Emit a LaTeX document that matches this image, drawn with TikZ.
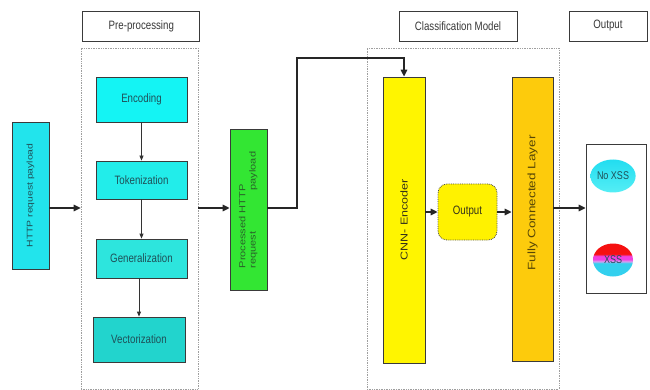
\documentclass[tikz,border=0pt]{standalone}
\usepackage{fontspec}
\setmainfont{Liberation Sans}
\usepackage{graphicx}
\usetikzlibrary{arrows.meta,shapes.geometric}
\definecolor{edge}{HTML}{3A3A3A}
\definecolor{labeltxt}{HTML}{383838}
\definecolor{teal}{HTML}{1F5058}
\definecolor{httpc}{HTML}{22E4EC}
\definecolor{encc}{HTML}{14F4F4}
\definecolor{tokc}{HTML}{22EDEA}
\definecolor{genc}{HTML}{2DE5DD}
\definecolor{vecc}{HTML}{22D4CD}
\definecolor{procc}{HTML}{33E633}
\definecolor{proctxt}{HTML}{2A622A}
\definecolor{cnnc}{HTML}{FFF500}
\definecolor{outrc}{HTML}{FFF200}
\definecolor{fcc}{HTML}{FDCB0C}
\definecolor{yelltxt}{HTML}{34321A}
\definecolor{fctxt}{HTML}{574606}
\definecolor{nxtop}{HTML}{22DDF0}
\definecolor{nxbot}{HTML}{55EEF5}
\definecolor{xcyan}{HTML}{33D0EE}
\definecolor{xlav}{HTML}{D9A0F0}
\definecolor{xmag}{HTML}{F040E0}
\definecolor{xred}{HTML}{F51010}
\pgfdeclareverticalshading{xssshade}{100bp}{color(0bp)=(xcyan); color(25bp)=(xcyan); color(45bp)=(xcyan); color(48bp)=(xlav); color(51bp)=(xmag); color(56bp)=(xmag); color(59bp)=(xred); color(75bp)=(xred); color(100bp)=(xred)}
\newcommand{\htx}[1]{\scalebox{1}[1.25]{#1}}
\newcommand{\vtx}[1]{\scalebox{1.25}[1]{#1}}
\tikzset{
  txt/.style={font=\fontsize{9.7}{11}\selectfont},
  labelbox/.style={draw=edge, line width=0.8pt, fill=white, inner sep=0pt, txt, text=labeltxt},
  container/.style={draw=gray!75, densely dotted, line width=0.7pt, inner sep=0pt},
  stepbox/.style={draw=edge, line width=0.8pt, inner sep=0pt, txt, text=teal},
  vbox/.style={draw=edge, line width=0.8pt, inner sep=0pt},
  arr/.style={draw=black!85, line width=1.5pt, -{Triangle[length=7pt,width=6.5pt]}},
  thinarr/.style={draw=black!80, line width=0.8pt, -{Triangle[length=5pt,width=4pt]}},
}
\begin{document}
\begin{tikzpicture}[x=1pt,y=-1pt]
\fill[white] (0,0) rectangle (650,390);
\useasboundingbox (0,0) rectangle (650,390);

% headers
\node[labelbox, minimum width=117pt, minimum height=30pt] (prelab) at (141.3,26) {\htx{Pre-processing}};
\node[labelbox, minimum width=118pt, minimum height=30pt] (clslab) at (458,26) {\htx{Classification Model}};
\node[labelbox, minimum width=78pt, minimum height=30pt] (outlab) at (608,26) {\htx{Output}};

% containers
\node[container, minimum width=117pt, minimum height=341pt] (prebox) at (139.5,218.5) {};
\node[container, minimum width=192pt, minimum height=341pt] (clsbox) at (463,218.5) {};

% input
\node[vbox, fill=httpc, minimum width=37pt, minimum height=147pt] (http) at (30.5,195.5)
  {\rotatebox{90}{\vtx{\fontsize{8.3}{10}\selectfont\color{teal}HTTP request payload}}};

% pre-processing steps
\node[stepbox, fill=encc, minimum width=91pt, minimum height=45pt] (enc) at (141.5,99.5) {\htx{Encoding}};
\node[stepbox, fill=tokc, minimum width=91pt, minimum height=38pt] (tok) at (141.5,180) {\htx{Tokenization}};
\node[stepbox, fill=genc, minimum width=91pt, minimum height=39pt] (gen) at (141.5,258.5) {\htx{Generalization}};
\node[stepbox, fill=vecc, minimum width=92pt, minimum height=45pt] (vec) at (139,339.5) {\htx{Vectorization}};

% processed
\node[vbox, fill=procc, minimum width=37pt, minimum height=161pt] (proc) at (248.5,210)
  {\rotatebox{90}{\vtx{\fontsize{8.8}{10.2}\selectfont\color{proctxt}\begin{tabular}{@{}l@{}}Processed HTTP\\request\hspace{33pt}payload\end{tabular}}}};

% classification model
\node[vbox, fill=cnnc, minimum width=42pt, minimum height=286pt] (cnn) at (404,220)
  {\rotatebox{90}{\vtx{\fontsize{10}{12}\selectfont\color{yelltxt}CNN- Encoder}}};
\node[draw=black!70, densely dotted, line width=0.8pt, fill=outrc, rounded corners=9pt, inner sep=0pt,
      minimum width=59pt, minimum height=56pt, txt, text=yelltxt] (outr) at (467.5,212) {\htx{Output}};
\node[vbox, fill=fcc, minimum width=41pt, minimum height=284pt] (fc) at (532.5,219)
  {\rotatebox{90}{\hspace{32pt}\vtx{\fontsize{10.8}{12}\selectfont\color{fctxt}Fully Connected Layer}}};

% output
\node[vbox, fill=white, minimum width=60pt, minimum height=149pt] (outbox) at (616,218.5) {};
\node[ellipse, top color=nxtop, bottom color=nxbot, draw=none, minimum width=40pt, minimum height=33pt, inner sep=0pt,
      font=\fontsize{9}{10}\selectfont, text=teal] (noxss) at (613,176) {\htx{No XSS}};
\node[ellipse, shading=xssshade, draw=none, minimum width=40pt, minimum height=33pt, inner sep=0pt,
      font=\fontsize{9}{10}\selectfont, text=teal] (xss) at (613,260) {\htx{XSS}};

% connectors
\coordinate (lv) at (0,208);
\coordinate (bend) at (297,58);
\draw[arr] (http.east |- lv) -- (prebox.west |- lv);
\draw[arr] (prebox.east |- lv) -- (proc.west |- lv);
\draw[arr] (proc.east |- lv) -| (bend) -| (cnn.north);
\draw[arr] (cnn.east |- outr) -- (outr.west);
\draw[arr] (outr.east) -- (fc.west |- outr);
\draw[arr] (fc.east |- lv) -- (outbox.west |- lv);

\draw[thinarr] (enc.south) -- (tok.north);
\draw[thinarr] (tok.south) -- (gen.north);
\draw[thinarr] (gen.south -| vec.north) -- (vec.north);
\end{tikzpicture}
\end{document}
